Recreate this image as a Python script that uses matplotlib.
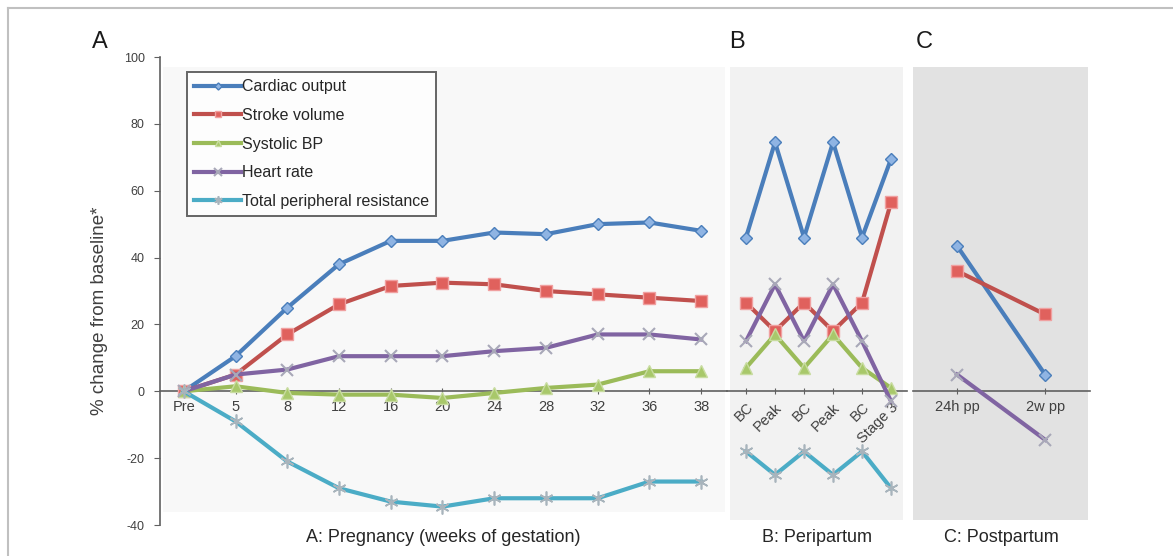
import matplotlib
matplotlib.use("Agg")
import matplotlib.pyplot as plt
from matplotlib.lines import Line2D

plt.rcParams["font.family"] = ["Liberation Sans", "DejaVu Sans"]
plt.rcParams["axes.unicode_minus"] = False

# --- data -------------------------------------------------------------
weeks = ["Pre", "5", "8", "12", "16", "20", "24", "28", "32", "36", "38"]
peri_labels = ["BC", "Peak", "BC", "Peak", "BC", "Stage 3"]
post_labels = ["24h pp", "2w pp"]

series_names = ["Cardiac output", "Stroke volume", "Systolic BP",
                "Heart rate", "Total peripheral resistance"]

preg_co = [0, 10.5, 25, 38, 45, 45, 47.5, 47, 50, 50.5, 48]
preg_sv = [0, 5, 17, 26, 31.5, 32.5, 32, 30, 29, 28, 27]
preg_sbp = [0, 1.5, -0.5, -1, -1, -2, -0.5, 1, 2, 6, 6]
preg_hr = [0, 5, 6.5, 10.5, 10.5, 10.5, 12, 13, 17, 17, 15.5]
preg_tpr = [0, -9, -21, -29, -33, -34.5, -32, -32, -32, -27, -27]

peri_co = [46, 74.5, 46, 74.5, 46, 69.5]
peri_sv = [26.5, 18, 26.5, 18, 26.5, 56.5]
peri_sbp = [7, 17, 7, 17, 7, 1]
peri_hr = [15, 32, 15, 32, 15, -3]
peri_tpr = [-18, -25, -18, -25, -18, -29]

post_co = [43.5, 5]
post_sv = [36, 23]
post_hr = [5, -14.5]

# --- styles -----------------------------------------------------------
styles = {
    "Cardiac output": dict(color="#4a7ebb", marker="D", ms=6, mfc="#8fb4e3", mec="#4a7ebb"),
    "Stroke volume": dict(color="#c0504d", marker="s", ms=8, mfc="#e0615d", mec="#f0a0a0"),
    "Systolic BP": dict(color="#9bbb59", marker="^", ms=8, mfc="#a8c86a", mec="#c8dca0"),
    "Heart rate": dict(color="#8064a2", marker="x", ms=9, mfc="none", mec="#a8a8b8", mew=1.5),
    "Total peripheral resistance": dict(color="#4bacc6", marker=(6, 2, 0), ms=10, mfc="none",
                                        mec="#a8b4bc", mew=1.2),
}

W, H = 1173, 556
fig = plt.figure(figsize=(W / 100, H / 100), dpi=100)
fig.patch.set_facecolor("white")


def axes_px(x0, x1, y_top=57, y_bot=525):
    return fig.add_axes([x0 / W, (H - y_bot) / H, (x1 - x0) / W, (y_bot - y_top) / H])


ax_a = axes_px(160, 727)
ax_b = axes_px(727, 907)
ax_c = axes_px(913, 1090)

tick_col = "#404040"
for ax in (ax_a, ax_b, ax_c):
    ax.set_facecolor("none")
    ax.set_ylim(-40, 100)
    for s in ("top", "right"):
        ax.spines[s].set_visible(False)
    ax.spines["bottom"].set_position(("data", 0))
    ax.spines["bottom"].set_color("#606060")
    ax.spines["bottom"].set_linewidth(1.2)
    ax.tick_params(axis="x", direction="inout", length=5, color="#606060",
                   labelsize=10.5, labelcolor=tick_col, pad=4)

ax_a.spines["left"].set_color("#606060")
ax_a.spines["left"].set_linewidth(1.2)
ax_a.set_yticks(range(-40, 101, 20))
ax_a.tick_params(axis="y", direction="out", length=4, color="#606060",
                 labelsize=9, labelcolor=tick_col, pad=7)
for ax in (ax_b, ax_c):
    ax.spines["left"].set_visible(False)
    ax.set_yticks([])

# backgrounds
ax_a.set_xlim(-0.46, 10.5)
ax_a.axvspan(-0.41, 10.47, ymin=(-36.2 + 40) / 140, ymax=(96.9 + 40) / 140,
             color="#f8f8f8", zorder=0, lw=0)
ax_b.set_xlim(-0.655, 5.55)
ax_b.axvspan(-0.55, 5.41, ymin=0.011, ymax=0.979, color="#f2f2f2", zorder=0, lw=0)
ax_c.set_xlim(-0.5, 1.51)
ax_c.axvspan(-0.5, 1.49, ymin=0.011, ymax=0.979, color="#e2e2e2", zorder=0, lw=0)

# --- panel A ----------------------------------------------------------
xa = range(len(weeks))
for name, vals in zip(series_names, [preg_co, preg_sv, preg_sbp, preg_hr, preg_tpr]):
    ax_a.plot(xa, vals, lw=3, label=name, zorder=3, **styles[name])
ax_a.set_xticks(list(xa))
ax_a.set_xticklabels(weeks)

leg = ax_a.legend(loc="upper left", bbox_to_anchor=(0.0476, 0.968), borderaxespad=0,
                  fontsize=11.5, frameon=True, fancybox=False, edgecolor="#404040",
                  labelspacing=0.85, handlelength=2.9, handletextpad=0.05,
                  borderpad=0.47, markerscale=0.6)
leg.get_frame().set_linewidth(1.4)
leg.get_frame().set_facecolor("white")
leg.set_zorder(5)
for t in leg.get_texts():
    t.set_color("#262626")

# --- panel B ----------------------------------------------------------
xb = range(len(peri_labels))
for name, vals in zip(series_names, [peri_co, peri_sv, peri_sbp, peri_hr, peri_tpr]):
    ax_b.plot(xb, vals, lw=3, zorder=3, **styles[name])
ax_b.set_xticks(list(xb))
ax_b.set_xticklabels(peri_labels, rotation=45, ha="right", va="top",
                     rotation_mode="anchor")

# --- panel C ----------------------------------------------------------
xc = range(len(post_labels))
for name, vals in zip(["Cardiac output", "Stroke volume", "Heart rate"],
                      [post_co, post_sv, post_hr]):
    ax_c.plot(xc, vals, lw=3, zorder=3, **styles[name])
ax_c.set_xticks(list(xc))
ax_c.set_xticklabels(post_labels)

# --- texts ------------------------------------------------------------
for ax, txt in ((ax_a, "A: Pregnancy (weeks of gestation)"),
                (ax_b, "B: Peripartum"), (ax_c, "C: Postpartum")):
    ax.text(0.5, -0.026, txt, transform=ax.transAxes, ha="center", va="center",
            fontsize=13, color="#262626")

fig.text(99 / W, 1 - 311 / H, "% change from baseline*", rotation=90,
         ha="center", va="center", fontsize=13.5, color="#404040")
for x, lab in ((100, "A"), (737, "B"), (924, "C")):
    fig.text(x / W, 1 - 42 / H, lab, ha="center", va="center", fontsize=17,
             color="#1a1a1a")

# thin frame lines along the top and left edge
fig.add_artist(Line2D([8 / W, 1], [1 - 8 / H] * 2, color="#c0c0c0", lw=1.5,
                      transform=fig.transFigure))
fig.add_artist(Line2D([8 / W] * 2, [0, 1 - 8 / H], color="#c0c0c0", lw=1.5,
                      transform=fig.transFigure))

fig.savefig("out.png", dpi=100)
